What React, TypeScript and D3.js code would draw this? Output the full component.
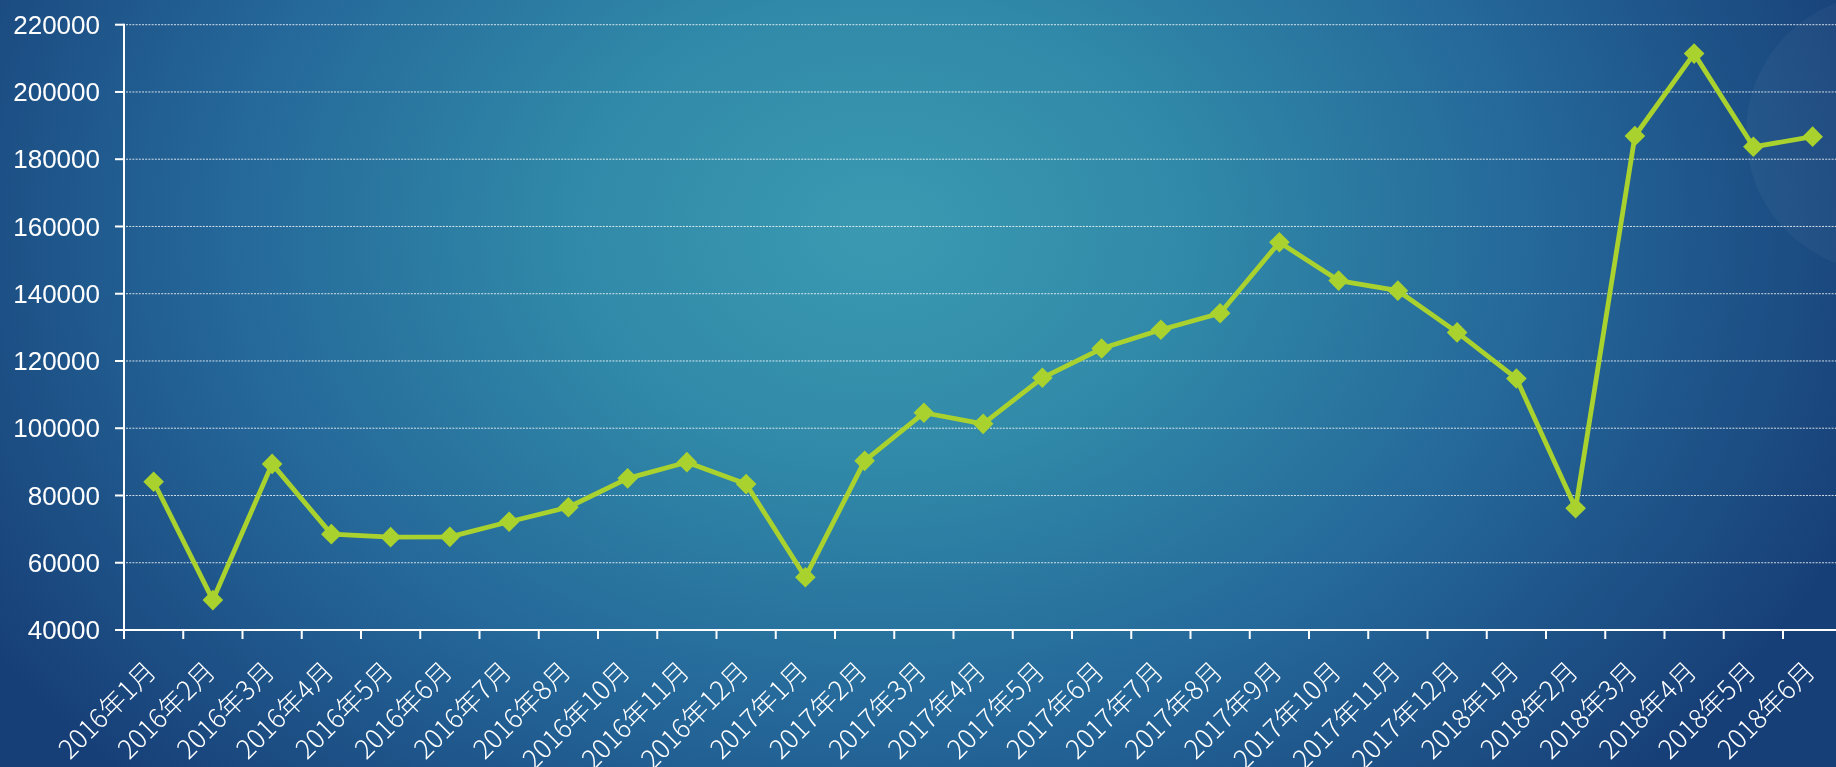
import React from "react";
import * as d3 from "d3";

const categories: string[] = [
  "2016年1月", "2016年2月", "2016年3月", "2016年4月", "2016年5月", "2016年6月",
  "2016年7月", "2016年8月", "2016年10月", "2016年11月", "2016年12月",
  "2017年1月", "2017年2月", "2017年3月", "2017年4月", "2017年5月", "2017年6月",
  "2017年7月", "2017年8月", "2017年9月", "2017年10月", "2017年11月", "2017年12月",
  "2018年1月", "2018年2月", "2018年3月", "2018年4月", "2018年5月", "2018年6月",
];

const values: number[] = [
  84100, 48900, 89400, 68500, 67600, 67700,
  72200, 76500, 85100, 89900, 83400,
  55700, 90300, 104600, 101300, 115000, 123700,
  129300, 134200, 155300, 143900, 140900, 128500,
  114800, 76200, 186900, 211400, 183700, 186700,
];

const yTicks: number[] = [40000, 60000, 80000, 100000, 120000, 140000, 160000, 180000, 200000, 220000];

const W = 1836;
const H = 767;
const LEFT = 124;
const BAND = 59.25;
const TOP = 24.7;
const BOTTOM = 630;

export default function App() {
  const x = d3
    .scaleBand<string>()
    .domain(categories)
    .range([LEFT, LEFT + BAND * categories.length])
    .paddingInner(0)
    .paddingOuter(0);
  const y = d3.scaleLinear().domain([40000, 220000]).range([BOTTOM, TOP]);

  const cx = (c: string) => (x(c) as number) + x.bandwidth() / 2;
  const pts: [number, number][] = categories.map((c, i) => [cx(c), y(values[i])]);
  const line = d3.line<[number, number]>().x((d) => d[0]).y((d) => d[1])(pts) || "";

  const boundaries = categories.map((c) => (x(c) as number) + x.bandwidth());

  return (
    <svg
      width={W}
      height={H}
      style={{ position: "fixed", left: 0, top: 0, display: "block" }}
    >
      <defs>
        <radialGradient
          id="bg"
          gradientUnits="userSpaceOnUse"
          cx={880}
          cy={230}
          r={1050}
          gradientTransform="translate(880 230) scale(1 0.75) translate(-880 -230)"
        >
          <stop offset="0" stopColor="#3b9ab2" />
          <stop offset="0.3" stopColor="#3089a8" />
          <stop offset="0.62" stopColor="#25689a" />
          <stop offset="1" stopColor="#173f77" />
        </radialGradient>
      </defs>
      <rect x={0} y={0} width={W} height={H} fill="url(#bg)" />
      <circle cx={1885} cy={133} r={139} fill="#ffffff" fillOpacity={0.035} />

      {/* gridlines */}
      {yTicks.slice(1).map((t) => (
        <line
          key={"g" + t}
          x1={LEFT + 2}
          x2={W}
          y1={y(t)}
          y2={y(t)}
          stroke="#ffffff"
          strokeOpacity={0.8}
          strokeWidth={1}
          strokeDasharray="2 1.2"
        />
      ))}

      {/* y axis */}
      <line x1={LEFT} x2={LEFT} y1={TOP - 1} y2={BOTTOM + 9} stroke="#fff" strokeWidth={2} />
      {yTicks.map((t) => (
        <g key={"y" + t}>
          <line x1={LEFT - 9} x2={LEFT} y1={y(t)} y2={y(t)} stroke="#fff" strokeWidth={2} />
          <text
            x={100}
            y={y(t)}
            dy="0.35em"
            textAnchor="end"
            fill="#fff"
            fontFamily="'Liberation Sans', Arial, sans-serif"
            fontSize={26}
          >
            {t}
          </text>
        </g>
      ))}

      {/* x axis */}
      <line x1={LEFT - 1} x2={W} y1={BOTTOM} y2={BOTTOM} stroke="#fff" strokeWidth={2} />
      {boundaries.map((b, i) => (
        <line key={"xt" + i} x1={b} x2={b} y1={BOTTOM} y2={BOTTOM + 9} stroke="#fff" strokeWidth={2} />
      ))}
      {categories.map((c) => (
        <text
          key={"xl" + c}
          transform={`translate(${cx(c) + 4},${BOTTOM + 43}) rotate(-45)`}
          textAnchor="end"
          fill="#fff"
          fontFamily="'Noto Sans CJK SC', 'Noto Sans', sans-serif"
          fontWeight={300}
          fontSize={26.5}
        >
          {c}
        </text>
      ))}

      {/* series */}
      <path d={line} fill="none" stroke="#a9d22f" strokeWidth={4.8} strokeLinejoin="round" />
      {pts.map((p, i) => (
        <rect
          key={"m" + i}
          x={-7.3}
          y={-7.3}
          width={14.6}
          height={14.6}
          fill="#a9d22f"
          transform={`translate(${p[0]},${p[1]}) rotate(45)`}
        />
      ))}
    </svg>
  );
}
